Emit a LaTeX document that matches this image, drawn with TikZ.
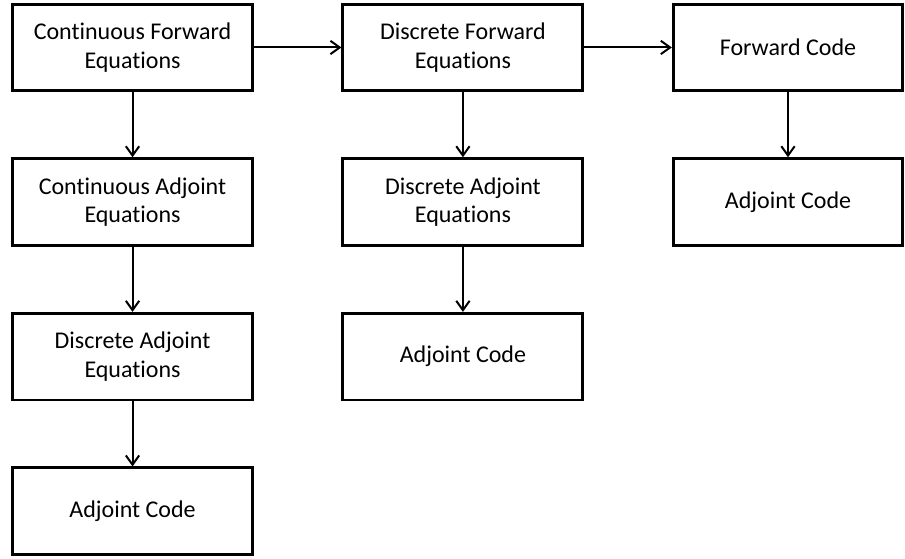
\documentclass[tikz,border=0pt]{standalone}
\usepackage{fontspec}
\setmainfont{Carlito}[Ligatures=NoCommon]
\usetikzlibrary{positioning,arrows.meta}
\tikzset{%
  eqbox/.style   = {shape=rectangle, draw, line width=2.2pt, align=center,%
                    minimum width=180pt, minimum height=65pt,%
                    font=\fontsize{18}{21.5}\selectfont},%
  codebox/.style = {eqbox, minimum width=172pt},%
  flow/.style    = {line width=1.5pt, -{Straight Barb[length=7pt,width=10pt]}}%
}

\begin{document}
\begin{tikzpicture}[node distance=48.75pt and 65.6pt]
	\useasboundingbox (0,0) rectangle (678.75pt,-418.5pt);
	% top row
	\node[eqbox] (cfwd) at (99.4pt,-35.6pt) {Continuous Forward\\Equations};
	\node[eqbox, right=of cfwd] (dfwd) {Discrete Forward\\Equations};
	\node[codebox, right=of dfwd] (fcode) {Forward Code};
	% continuous route
	\node[eqbox, below=of cfwd] (cadj) {Continuous Adjoint\\Equations};
	\node[eqbox, below=of cadj] (cdadj) {Discrete Adjoint\\Equations};
	\node[eqbox, below=of cdadj] (cacode) {Adjoint Code};
	% discrete route
	\node[eqbox, below=of dfwd] (dadj) {Discrete Adjoint\\Equations};
	\node[eqbox, below=of dadj] (dacode) {Adjoint Code};
	% code route
	\node[codebox, below=of fcode] (acode) {Adjoint Code};
	\draw[flow] (cfwd) -- (dfwd);
	\draw[flow] (dfwd) -- (fcode);
	\draw[flow] (cfwd) -- (cadj);
	\draw[flow] (cadj) -- (cdadj);
	\draw[flow] (cdadj) -- (cacode);
	\draw[flow] (dfwd) -- (dadj);
	\draw[flow] (dadj) -- (dacode);
	\draw[flow] (fcode) -- (acode);
\end{tikzpicture}
\end{document}
